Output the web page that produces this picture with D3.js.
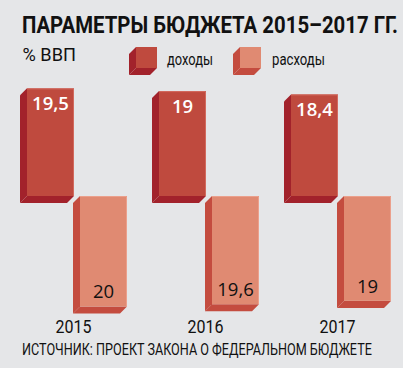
<!DOCTYPE html>
<html><head><meta charset="utf-8">
<script src="https://cdn.jsdelivr.net/npm/d3@7"></script>
<style>
html,body{margin:0;padding:0;background:#e5e6e8;}
svg{display:block;}
</style></head>
<body>
<script>
const years = ["2015", "2016", "2017"];
const series = ["доходы", "расходы"];
const revenue = [19.5, 19, 18.4];
const expenses = [20, 19.6, 19];
const revenueLabels = ["19,5", "19", "18,4"];
const expenseLabels = ["20", "19,6", "19"];

const W = 403, H = 368;
const svg = d3.select("body").append("svg").attr("width", W).attr("height", H);
svg.append("rect").attr("width", W).attr("height", H).attr("fill", "#e5e6e8");

const colors = {
  "доходы": {front: "#bf4a3e", side: "#a2222b", hl: "#d26a5e"},
  "расходы": {front: "#e08a72", side: "#c44c3f", hl: "#eba08c"}
};
const D = 7;
const baseline = 196;

const x0 = d3.scaleBand().domain(years).range([20, 20 + 132 * 3]);
const x1 = d3.scaleBand().domain(series).range([7, 107]).paddingInner(6 / 53).paddingOuter(0);
const y = d3.scaleLinear().domain([0, 20]).range([0, 110.4]);

// condensed text: draw at natural width, then squeeze horizontally with a transform
function squeezed(parent, x, yy, width, txt, size, weight, anchor) {
  const g = parent.append("g");
  const t = g.append("text").attr("x", 0).attr("y", 0)
    .attr("font-family", "Roboto, sans-serif").attr("font-size", size)
    .attr("font-weight", weight || 400).attr("fill", "#111111")
    .text(txt);
  const nat = t.node().getComputedTextLength();
  const k = width / nat;
  const left = anchor === "middle" ? x - width / 2 : x;
  g.attr("transform", `translate(${left},${yy}) scale(${k},1)`);
  return g;
}

function bar3d(g, x, top, w, h, c) {
  g.append("path").attr("fill", c.side)
    .attr("d", `M${x},${top}L${x - D},${top + D}L${x - D},${top + h + D}L${x},${top + h}Z`);
  g.append("path").attr("fill", c.side)
    .attr("d", `M${x},${top + h}L${x + w},${top + h}L${x + w - D},${top + h + D}L${x - D},${top + h + D}Z`);
  g.append("rect").attr("x", x).attr("y", top).attr("width", w).attr("height", h).attr("fill", c.front);
  g.append("path").attr("fill", "none").attr("stroke", c.hl).attr("stroke-width", 1)
    .attr("d", `M${x},${top + 0.5}L${x + w - 0.5},${top + 0.5}L${x + w - 0.5},${top + h}`);
}

const groups = svg.selectAll("g.year").data(years).join("g").attr("class", "year")
  .attr("transform", d => `translate(${x0(d)},0)`);

groups.each(function (yr, i) {
  const g = d3.select(this);
  const w = x1.bandwidth();
  const hr = y(revenue[i]);
  const xr = x1("доходы");
  bar3d(g, xr, baseline - hr, w, hr, colors["доходы"]);
  g.append("text").attr("x", xr + w / 2).attr("y", baseline - hr + 22)
    .attr("text-anchor", "middle").attr("fill", "#ffffff")
    .attr("font-family", "'Open Sans', sans-serif").attr("font-weight", 600).attr("font-size", 18.5)
    .text(revenueLabels[i]);
  const he = y(expenses[i]);
  const xe = x1("расходы");
  bar3d(g, xe, baseline, w, he, colors["расходы"]);
  g.append("text").attr("x", xe + w / 2).attr("y", baseline + he - 8)
    .attr("text-anchor", "middle").attr("fill", "#111111")
    .attr("font-family", "'Open Sans', sans-serif").attr("font-weight", 500).attr("font-size", 18.5)
    .text(expenseLabels[i]);
  squeezed(g, 53.5, 333.3, 36, yr, 17.5, 400, "middle");
});

// Title
squeezed(svg, 22, 33, 376, "ПАРАМЕТРЫ БЮДЖЕТА 2015–2017 ГГ.", 24, 700);
squeezed(svg, 22.5, 61, 53.5, "% ВВП", 18, 400);

// Legend
const legendX = [136, 240];
const legendTextX = [167, 272];
const legendTextW = [46, 53];
series.forEach((s, i) => {
  const lg = svg.append("g");
  const c = colors[s];
  const lx = legendX[i], ly = 47, ls = 21;
  lg.append("path").attr("fill", c.side)
    .attr("d", `M${lx},${ly}L${lx - D},${ly + D}L${lx - D},${ly + ls + D}L${lx},${ly + ls}Z`);
  lg.append("path").attr("fill", c.side)
    .attr("d", `M${lx},${ly + ls}L${lx + ls},${ly + ls}L${lx + ls - D},${ly + ls + D}L${lx - D},${ly + ls + D}Z`);
  lg.append("rect").attr("x", lx).attr("y", ly).attr("width", ls).attr("height", ls).attr("fill", c.front);
  squeezed(lg, legendTextX[i], 64.5, legendTextW[i], s, 17, 400);
});

// Source
squeezed(svg, 22, 355, 350, "ИСТОЧНИК: ПРОЕКТ ЗАКОНА О ФЕДЕРАЛЬНОМ БЮДЖЕТЕ", 16.5, 400);
</script>
</body></html>
